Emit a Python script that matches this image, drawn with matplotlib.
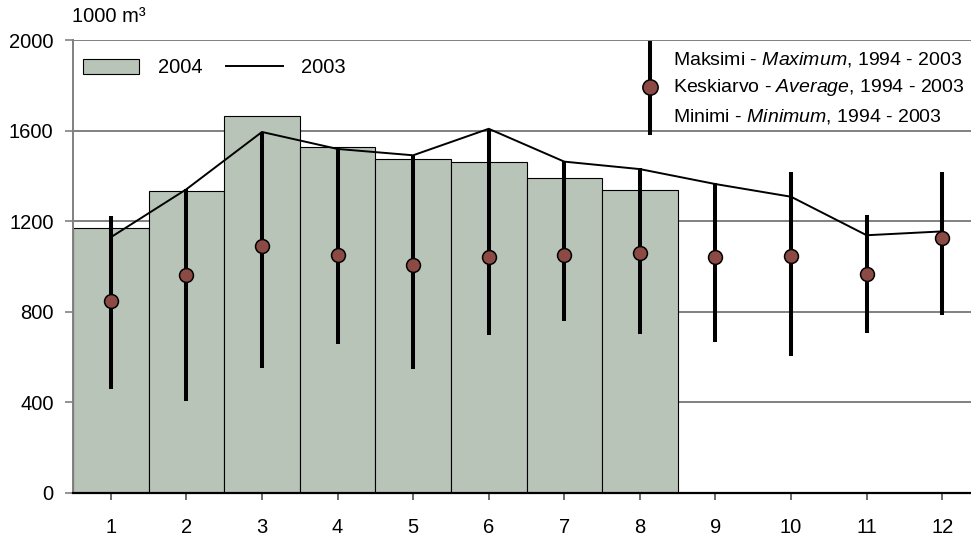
import numpy as np
import matplotlib.pyplot as plt
from matplotlib.patches import Patch
from matplotlib.lines import Line2D

plt.rcParams['font.family'] = ['Liberation Sans', 'DejaVu Sans']
plt.rcParams['mathtext.fontset'] = 'custom'
plt.rcParams['mathtext.rm'] = 'Liberation Sans'
plt.rcParams['mathtext.it'] = 'Liberation Sans:italic'

# kuukaudet
months = np.arange(1, 13)
month_labels = [str(m) for m in months]

# 2004 (tammi-elokuu)
v2004 = [1170, 1333, 1663, 1526, 1476, 1463, 1392, 1339]
# 2003
v2003 = [1129, 1341, 1594, 1519, 1491, 1608, 1463, 1430, 1364, 1308, 1138, 1155]
# 1994 - 2003
v_max = [1224, 1341, 1596, 1523, 1491, 1608, 1466, 1434, 1367, 1419, 1227, 1419]
v_avg = [846, 964, 1092, 1052, 1007, 1041, 1049, 1061, 1041, 1046, 966, 1124]
v_min = [459, 408, 550, 658, 549, 696, 759, 700, 668, 605, 708, 787]

W, H = 971, 539
fig = plt.figure(figsize=(W / 100, H / 100), dpi=100)
ax = fig.add_axes([73 / W, (H - 493) / H, (980 - 73) / W, (493 - 40) / H])

bar_col = '#b9c4b9'
dot_col = '#8b4a44'

ax.bar(months[:len(v2004)], v2004, width=1.0, color=bar_col, edgecolor='black',
       linewidth=0.8, zorder=2)
ax.plot(months, v2003, color='black', linewidth=1.4, zorder=3)
ax.vlines(months, v_min, v_max, color='black', linewidth=2.9, zorder=4)
ax.plot(months, v_avg, linestyle='none', marker='o', markersize=10,
        markerfacecolor=dot_col, markeredgecolor='black', markeredgewidth=1.1, zorder=5)

ax.set_xlim(0.5, 12.5)
ax.set_ylim(0, 2000)
ax.set_yticks([0, 400, 800, 1200, 1600, 2000])
ax.set_xticks(months)
ax.set_xticklabels(month_labels)
ax.yaxis.grid(True, color='#808080', linewidth=1.4)
ax.set_axisbelow(True)

for s in ['top', 'right']:
    ax.spines[s].set_visible(False)
ax.spines['left'].set_color('#808080')
ax.spines['left'].set_linewidth(1.4)
ax.spines['bottom'].set_color('black')
ax.spines['bottom'].set_linewidth(1.6)

ax.tick_params(axis='y', length=6, width=1.2, color='#808080', pad=8, labelsize=14.5)
ax.tick_params(axis='x', length=5, width=1.2, color='#505050', pad=13, labelsize=14.5)

fig.text(72 / W, 1 - 17 / H, '1000 m³', fontsize=14.5, ha='left', va='center')

# selite 1
handles = [Patch(facecolor=bar_col, edgecolor='black', linewidth=0.8),
           Line2D([], [], color='black', linewidth=1.4)]
ax.legend(handles, ['2004', '2003'], loc='upper left', bbox_to_anchor=(0.0, 0.982),
          ncol=2, frameon=False, fontsize=14.5, handlelength=2.8, handleheight=0.8,
          handletextpad=0.9, columnspacing=1.2, borderaxespad=0.1)

# selite 2
lx = 650 / W
fig.add_artist(Line2D([lx, lx], [1 - 43 / H, 1 - 133 / H], color='black', linewidth=2.9))
fig.add_artist(Line2D([lx], [1 - 87 / H], marker='o', markersize=11,
                      markerfacecolor=dot_col, markeredgecolor='black', markeredgewidth=1.1))
tx = 673 / W
fig.text(tx, 1 - 60 / H, r'Maksimi - $\mathit{Maximum}$, 1994 - 2003', fontsize=14, va='center')
fig.text(tx, 1 - 88 / H, r'Keskiarvo - $\mathit{Average}$, 1994 - 2003', fontsize=14, va='center')
fig.text(tx, 1 - 116 / H, r'Minimi - $\mathit{Minimum}$, 1994 - 2003', fontsize=14, va='center')

fig.savefig('out.png', dpi=100)
